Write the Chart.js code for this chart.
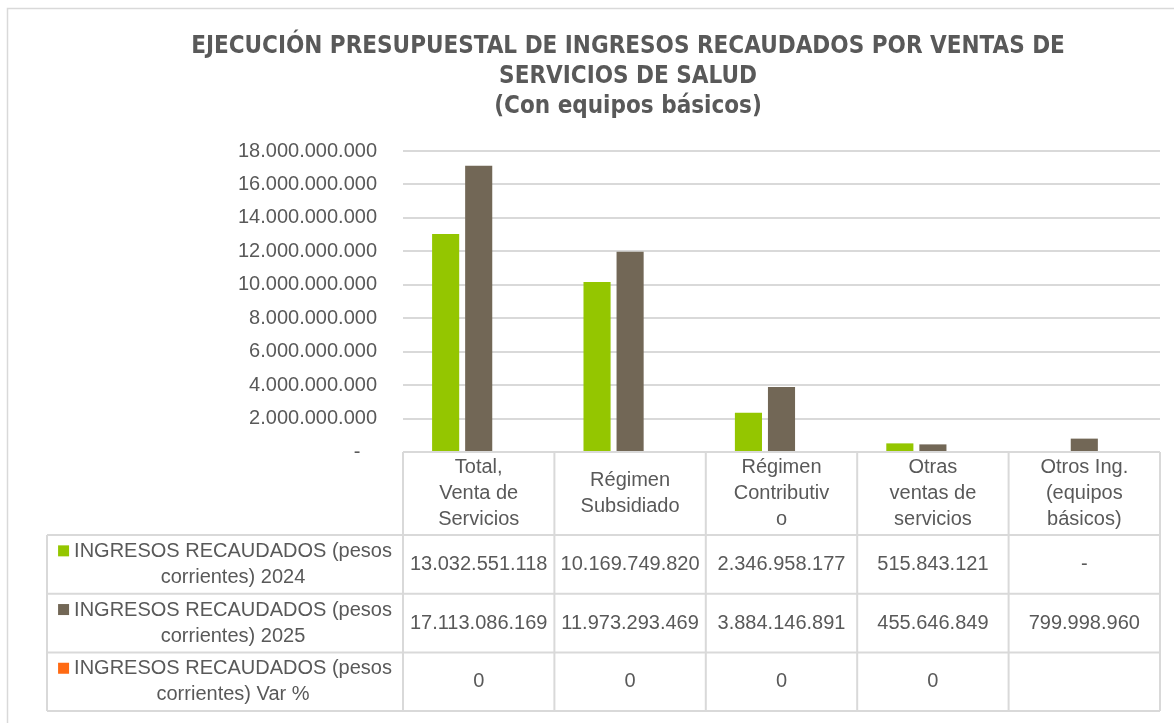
<!DOCTYPE html>
<html>
<head>
<meta charset="utf-8">
<script src="https://cdn.jsdelivr.net/npm/chart.js@4/dist/chart.umd.min.js"></script>
<style>
  html, body { margin: 0; padding: 0; background: #fff; }
  #wrap { position: relative; width: 1174px; height: 723px; }
</style>
</head>
<body>
<div id="wrap"><canvas id="chart"></canvas></div>
<script>
// categories (header row of the data table, wrapped as in the original)
const categories = [
  ["Total,", "Venta de", "Servicios"],
  ["Régimen", "Subsidiado"],
  ["Régimen", "Contributiv", "o"],
  ["Otras", "ventas de", "servicios"],
  ["Otros Ing.", "(equipos", "básicos)"]
];
const seriesNames = [
  "INGRESOS RECAUDADOS (pesos corrientes) 2024",
  "INGRESOS RECAUDADOS (pesos corrientes) 2025",
  "INGRESOS RECAUDADOS (pesos corrientes) Var %"
];
const ingresos2024 = [13032551118, 10169749820, 2346958177, 515843121, 0];
const ingresos2025 = [17113086169, 11973293469, 3884146891, 455646849, 799998960];
const variacion = [0, 0, 0, 0, null];
const seriesColors = ["#94c600", "#726756", "#ff6a13"];

// y axis ticks
const yMax = 18000000000;
const yStep = 2000000000;

const FONT = "'Liberation Sans', Arial, sans-serif";
const TEXT = "#595959";
const LINE = "#d9d9d9";
const HEADER_H = 83;
const ROW_H = 58.7;
const LEGEND_LEFT = 47;

const dots = v => Math.round(v).toString().replace(/\B(?=(\d{3})+(?!\d))/g, ".");
const fmtMoney = v => (v === null ? "" : v === 0 ? "-" : dots(v));
const fmtVar = v => (v === null ? "" : String(v));
const formats = [fmtMoney, fmtMoney, fmtVar];

function wrap(ctx, text, maxW) {
  const words = text.split(" ");
  const lines = [];
  let cur = "";
  words.forEach(w => {
    const t = cur ? cur + " " + w : w;
    if (ctx.measureText(t).width > maxW && cur) {
      lines.push(cur);
      cur = w;
    } else {
      cur = t;
    }
  });
  if (cur) lines.push(cur);
  return lines;
}

const tablePlugin = {
  id: "dataTable",
  beforeDraw(chart) {
    const ctx = chart.ctx;
    ctx.save();
    ctx.strokeStyle = LINE;
    ctx.lineWidth = 1.5;
    ctx.strokeRect(7.5, 8.5, 1200, 800);
    ctx.restore();
  },
  afterDraw(chart) {
    const { ctx, chartArea } = chart;
    const x = chart.scales.x;
    const n = categories.length;
    const colW = (x.right - x.left) / n;
    const top = chartArea.bottom;
    const rowsTop = top + HEADER_H;
    const bottom = rowsTop + ROW_H * seriesNames.length;
    const lh = 26;

    ctx.save();
    ctx.strokeStyle = LINE;
    ctx.lineWidth = 2;
    ctx.beginPath();
    // vertical lines of category columns
    for (let i = 0; i <= n; i++) {
      const px = x.left + i * colW;
      ctx.moveTo(px, top);
      ctx.lineTo(px, bottom);
    }
    // legend column left edge
    ctx.moveTo(LEGEND_LEFT, rowsTop);
    ctx.lineTo(LEGEND_LEFT, bottom);
    // horizontal lines
    for (let r = 0; r <= seriesNames.length; r++) {
      const py = rowsTop + r * ROW_H;
      ctx.moveTo(LEGEND_LEFT, py);
      ctx.lineTo(x.right, py);
    }
    ctx.stroke();

    ctx.fillStyle = TEXT;
    ctx.font = "20px " + FONT;
    ctx.textAlign = "center";
    ctx.textBaseline = "middle";

    // header row
    categories.forEach((lines, i) => {
      const cx = x.getPixelForValue(i);
      const cy = top + HEADER_H / 2;
      lines.forEach((t, k) => {
        ctx.fillText(t, cx, cy + (k - (lines.length - 1) / 2) * lh);
      });
    });

    // data rows
    const datasets = chart.data.datasets;
    datasets.forEach((ds, r) => {
      const cy = rowsTop + r * ROW_H + ROW_H / 2;
      // legend cell
      const lines = wrap(ctx, ds.label, 330);
      const cellCx = (LEGEND_LEFT + x.left) / 2;
      lines.forEach((t, k) => {
        const ly = cy + (k - (lines.length - 1) / 2) * lh;
        if (k === 0) {
          const w = ctx.measureText(t).width + 16;
          const sx = cellCx - w / 2;
          ctx.fillStyle = ds.backgroundColor;
          ctx.fillRect(sx, ly - 6, 11, 11);
          ctx.fillStyle = TEXT;
          ctx.textAlign = "left";
          ctx.fillText(t, sx + 16, ly);
          ctx.textAlign = "center";
        } else {
          ctx.fillText(t, cellCx + 8, ly);
        }
      });
      // values
      ds.data.forEach((v, i) => {
        ctx.fillText(formats[r](v), x.getPixelForValue(i), cy);
      });
    });
    ctx.restore();
  }
};

const data = {
  labels: categories,
  datasets: [ingresos2024, ingresos2025, variacion].map((vals, i) => ({
    label: seriesNames[i],
    data: vals,
    backgroundColor: seriesColors[i],
    borderWidth: 0,
    categoryPercentage: 0.655,
    barPercentage: 0.82
  }))
};

new Chart(document.getElementById("chart"), {
  type: "bar",
  data: data,
  options: {
    responsive: true,
    maintainAspectRatio: false,
    animation: false,
    layout: { padding: { left: 96, right: 14, top: 0, bottom: 271 } },
    plugins: {
      legend: { display: false },
      tooltip: { enabled: false },
      title: {
        display: true,
        text: [
          "EJECUCIÓN PRESUPUESTAL DE INGRESOS RECAUDADOS POR VENTAS DE",
          "SERVICIOS DE SALUD",
          "(Con equipos básicos)"
        ],
        color: TEXT,
        font: { family: "'Liberation Sans Narrow', 'DejaVu Sans Condensed', " + FONT, size: 24, weight: "bold", lineHeight: 1.25 },
        padding: { top: 32, bottom: 29 }
      }
    },
    scales: {
      x: { display: false },
      y: {
        min: 0,
        max: yMax,
        afterFit(scale) { scale.width = 307; },
        border: { display: false },
        grid: { color: LINE, lineWidth: 2, drawTicks: false },
        ticks: {
          stepSize: yStep,
          padding: 26,
          color: TEXT,
          font: { family: FONT, size: 20 },
          callback: v => (v === 0 ? "-   " : dots(v))
        }
      }
    }
  },
  plugins: [tablePlugin]
});
</script>
</body>
</html>
